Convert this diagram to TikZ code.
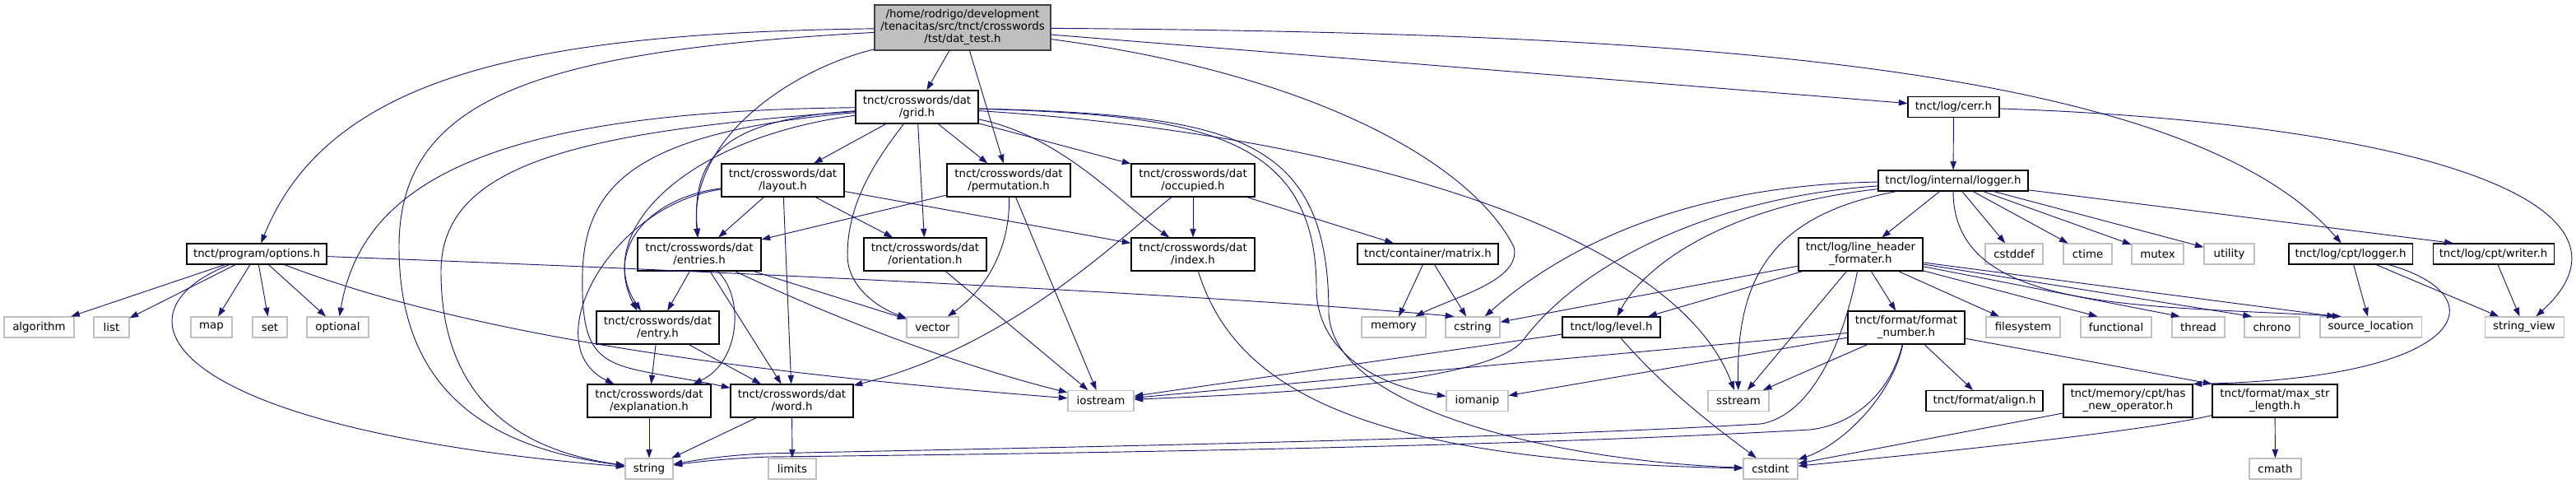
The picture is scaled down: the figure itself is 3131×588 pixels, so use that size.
\documentclass[tikz,border=0pt]{standalone}
\usepackage{fontspec}
\setmainfont{DejaVu Sans}
\usetikzlibrary{arrows.meta}
\definecolor{edgeBlue}{RGB}{25,25,112}
\definecolor{extGrey}{RGB}{191,191,191}
\definecolor{rootLine}{RGB}{64,64,64}

\begin{document}
\begin{tikzpicture}[x=0.75pt, y=-0.75pt,
    box/.style={rectangle, draw=black, line width=0.8pt, fill=white, inner sep=0pt, align=center, minimum height=18.75pt, font=\fontsize{10}{11.25}\selectfont},
    tall/.style={minimum height=30pt},
    ext/.style={box, draw=extGrey},
    main/.style={box, draw=rootLine, fill=extGrey, minimum height=41.25pt},
    wd/.style={minimum width=#1*0.75pt},
    arrow/.style={draw=edgeBlue, line width=0.7pt, -{Triangle[length=8pt, width=5.5pt]}}
]
\useasboundingbox (0,0) rectangle (3131,588);

% Row 0: the test header
\node[main, wd=214] (root) at (1170,33.5) {/home/rodrigo/development\\/tenacitas/src/tnct/crosswords\\/tst/dat\_test.h};

% Row 1
\node[box, tall, wd=149] (grid) at (1114.5,130) {tnct/crosswords/dat\\/grid.h};
\node[box, wd=111] (cerr) at (2374.5,130) {tnct/log/cerr.h};

% Row 2
\node[box, tall, wd=149] (layout) at (951.5,219) {tnct/crosswords/dat\\/layout.h};
\node[box, tall, wd=150] (perm) at (1226,219) {tnct/crosswords/dat\\/permutation.h};
\node[box, tall, wd=150] (occupied) at (1450,219) {tnct/crosswords/dat\\/occupied.h};
\node[box, wd=182] (ilogger) at (2374,219.5) {tnct/log/internal/logger.h};

% Row 3
\node[box, wd=170] (options) at (312,308.5) {tnct/program/options.h};
\node[box, tall, wd=150] (entries) at (850,309) {tnct/crosswords/dat\\/entries.h};
\node[box, tall, wd=149] (orient) at (1124.5,309) {tnct/crosswords/dat\\/orientation.h};
\node[box, tall, wd=150] (index) at (1450,309) {tnct/crosswords/dat\\/index.h};
\node[box, wd=171] (matrix) at (1735.5,308.5) {tnct/container/matrix.h};
\node[box, tall, wd=151] (lhf) at (2261.5,309) {tnct/log/line\_header\\\_formater.h};
\node[ext, wd=70] (cstddef) at (2448,308.5) {cstddef};
\node[ext, wd=59] (ctime) at (2537.5,308.5) {ctime};
\node[ext, wd=63] (mutex) at (2622.5,308.5) {mutex};
\node[ext, wd=61] (utility) at (2709.5,308.5) {utility};
\node[box, wd=150] (clogger) at (2857,308.5) {tnct/log/cpt/logger.h};
\node[box, wd=147] (cwriter) at (3030.5,308.5) {tnct/log/cpt/writer.h};

% Row 4
\node[ext, wd=85] (algorithm) at (47.5,397.5) {algorithm};
\node[ext, wd=43] (list) at (135.5,397.5) {list};
\node[ext, wd=50] (map) at (257,397.5) {map};
\node[ext, wd=42] (set) at (328,397.5) {set};
\node[ext, wd=75] (optional) at (410.5,397.5) {optional};
\node[box, tall, wd=149] (entry) at (799.5,398) {tnct/crosswords/dat\\/entry.h};
\node[ext, wd=63] (vector) at (1133.5,397.5) {vector};
\node[ext, wd=78] (memory) at (1694,397.5) {memory};
\node[ext, wd=66] (cstring) at (1790,397.5) {cstring};
\node[box, wd=119] (level) at (1958.5,397.5) {tnct/log/level.h};
\node[box, tall, wd=142] (fmtnum) at (2317,398) {tnct/format/format\\\_number.h};
\node[ext, wd=90] (filesystem) at (2459,397.5) {filesystem};
\node[ext, wd=86] (functional) at (2572,397.5) {functional};
\node[ext, wd=64] (thread) at (2672,397.5) {thread};
\node[ext, wd=67] (chrono) at (2761.5,397.5) {chrono};
\node[ext, wd=123] (srcloc) at (2881.5,397.5) {source\_location};
\node[ext, wd=96] (strview) at (3068,397.5) {string\_view};

% Row 5
\node[box, tall, wd=150] (expl) at (789,487) {tnct/crosswords/dat\\/explanation.h};
\node[box, tall, wd=149] (word) at (962.5,487) {tnct/crosswords/dat\\/word.h};
\node[ext, wd=80] (iostream) at (1338,487) {iostream};
\node[ext, wd=75] (iomanip) at (1795.5,487) {iomanip};
\node[ext, wd=74] (sstream) at (2113,487) {sstream};
\node[box, wd=142] (align) at (2412,487) {tnct/format/align.h};
\node[box, tall, wd=157] (hasnew) at (2586.5,487) {tnct/memory/cpt/has\\\_new\_operator.h};
\node[box, tall, wd=152] (maxstr) at (2765,487) {tnct/format/max\_str\\\_length.h};

% Row 6
\node[ext, wd=58] (string) at (789,569.5) {string};
\node[ext, wd=58] (limits) at (963,569.5) {limits};
\node[ext, wd=66] (cstdint) at (2152,569.5) {cstdint};
\node[ext, wd=63] (cmath) at (2765.5,569.5) {cmath};

% includes of the test header
\draw[arrow] (root) -- (grid);
\draw[arrow] (root) -- (perm);
\draw[arrow] (root) .. controls (650,40) and (400,90) .. (options);
\draw[arrow] (root) .. controls (960,85) and (836,170) .. (entries);
\draw[arrow] (root) .. controls (650,62) and (485,120) .. (485,300) .. controls (485,480) and (600,545) .. (string);
\draw[arrow] (root) -- (cerr);
\draw[arrow] (root) .. controls (2000,40) and (2650,70) .. (clogger);
\draw[arrow] (root) .. controls (1600,90) and (1790,200) .. (1840,300) .. controls (1850,340) and (1770,360) .. (memory);

% grid.h
\draw[arrow] (grid) -- (layout);
\draw[arrow] (grid) -- (perm);
\draw[arrow] (grid) -- (occupied);
\draw[arrow] (grid) -- (orient);
\draw[arrow] (grid) .. controls (1290,165) and (1360,245) .. (index);
\draw[arrow] (grid) .. controls (880,145) and (840,190) .. (entries);
\draw[arrow] (grid) .. controls (820,170) and (720,290) .. (entry.135);
\draw[arrow] (grid) .. controls (780,160) and (712,220) .. (708,330) .. controls (705,460) and (740,440) .. (word);
\draw[arrow] (grid) .. controls (600,135) and (440,220) .. (optional);
\draw[arrow] (grid) .. controls (700,160) and (536,200) .. (536,330) .. controls (536,500) and (650,550) .. (string);
\draw[arrow] (grid) .. controls (1060,200) and (1030,250) .. (1030,310) .. controls (1030,350) and (1070,375) .. (vector);
\draw[arrow] (grid) .. controls (1600,160) and (2030,270) .. (sstream);
\draw[arrow] (grid) .. controls (1450,140) and (1600,160) .. (1600,350) .. controls (1600,430) and (1680,470) .. (iomanip);
\draw[arrow] (grid) .. controls (1500,140) and (1615,165) .. (1615,380) .. controls (1620,500) and (1900,560) .. (cstdint);

% layout.h
\draw[arrow] (layout) -- (entries);
\draw[arrow] (layout) -- (orient);
\draw[arrow] (layout) -- (index);
\draw[arrow] (layout) -- (word);
\draw[arrow] (layout) .. controls (790,240) and (735,300) .. (entry.141);
\draw[arrow] (layout) .. controls (740,250) and (650,420) .. (expl);

% permutation.h, occupied.h
\draw[arrow] (perm) -- (entries);
\draw[arrow] (perm) .. controls (1228,300) and (1200,350) .. (vector);
\draw[arrow] (perm) -- (iostream);
\draw[arrow] (occupied) -- (index);
\draw[arrow] (occupied) -- (matrix);
\draw[arrow] (occupied) .. controls (1360,290) and (1230,420) .. (word);

% entries.h, entry.h, word.h
\draw[arrow] (entries) -- (entry);
\draw[arrow] (entries) .. controls (905,360) and (900,440) .. (expl.21);
\draw[arrow] (entries) -- (word);
\draw[arrow] (entries) -- (vector);
\draw[arrow] (entries) .. controls (1000,380) and (1150,440) .. (iostream);
\draw[arrow] (entry) -- (expl);
\draw[arrow] (entry) -- (word);
\draw[arrow] (expl) -- (string);
\draw[arrow] (word) -- (string);
\draw[arrow] (word) -- (limits);
\draw[arrow] (orient) -- (iostream);
\draw[arrow] (index) .. controls (1500,470) and (1650,560) .. (cstdint);

% options.h
\draw[arrow] (options) -- (algorithm);
\draw[arrow] (options) -- (list);
\draw[arrow] (options) -- (map);
\draw[arrow] (options) -- (set);
\draw[arrow] (options) -- (optional);
\draw[arrow] (options) .. controls (130,380) and (190,520) .. (string);
\draw[arrow] (options) .. controls (900,330) and (1500,360) .. (cstring.150);
\draw[arrow] (options) .. controls (600,420) and (1000,460) .. (iostream);

% matrix.h
\draw[arrow] (matrix) -- (memory);
\draw[arrow] (matrix) -- (cstring);

% log headers
\draw[arrow] (cerr) -- (ilogger);
\draw[arrow] (cerr) .. controls (2950,150) and (3230,250) .. (strview);
\draw[arrow] (ilogger) -- (lhf);
\draw[arrow] (ilogger) -- (cstddef);
\draw[arrow] (ilogger) -- (ctime);
\draw[arrow] (ilogger) -- (mutex);
\draw[arrow] (ilogger) -- (utility);
\draw[arrow] (ilogger) -- (cwriter.165);
\draw[arrow] (ilogger) .. controls (2374,380) and (2600,370) .. (srcloc.160);
\draw[arrow] (ilogger) .. controls (2050,225) and (1900,300) .. (cstring);
\draw[arrow] (ilogger) .. controls (2080,240) and (1920,320) .. (1850,415) .. controls (1800,470) and (1500,480) .. (iostream);
\draw[arrow] (ilogger) .. controls (2100,250) and (2000,320) .. (level);
\draw[arrow] (ilogger) .. controls (2160,260) and (2110,330) .. (sstream);
\draw[arrow] (lhf) -- (level);
\draw[arrow] (lhf) -- (cstring);
\draw[arrow] (lhf) -- (sstream);
\draw[arrow] (lhf) -- (fmtnum);
\draw[arrow] (lhf) .. controls (2240,420) and (2200,505) .. (2140,515) .. controls (1800,535) and (1200,545) .. (930,551) .. controls (880,553) and (840,560) .. (string);
\draw[arrow] (lhf) -- (filesystem);
\draw[arrow] (lhf) -- (functional.150);
\draw[arrow] (lhf) -- (thread.150);
\draw[arrow] (lhf) -- (chrono.152);
\draw[arrow] (lhf) -- (srcloc.163);
\draw[arrow] (level) .. controls (2030,480) and (2100,530) .. (cstdint);
\draw[arrow] (level) -- (iostream);

% format headers
\draw[arrow] (fmtnum) -- (iostream);
\draw[arrow] (fmtnum) -- (iomanip);
\draw[arrow] (fmtnum) -- (sstream);
\draw[arrow] (fmtnum) .. controls (2300,470) and (2260,515) .. (2200,522) .. controls (1800,545) and (1200,552) .. (935,555) .. controls (880,557) and (840,562) .. (string);
\draw[arrow] (fmtnum) .. controls (2300,480) and (2240,540) .. (cstdint);
\draw[arrow] (fmtnum) -- (align);
\draw[arrow] (fmtnum) -- (maxstr.north west);
\draw[arrow] (clogger) -- (srcloc);
\draw[arrow] (clogger) -- (strview);
\draw[arrow] (clogger) .. controls (3040,360) and (3000,460) .. (hasnew.north east);
\draw[arrow] (cwriter) -- (strview);
\draw[arrow] (hasnew) -- (cstdint);
\draw[arrow] (maxstr) .. controls (2600,525) and (2350,550) .. (cstdint);
\draw[arrow] (maxstr) -- (cmath);
\end{tikzpicture}
\end{document}
